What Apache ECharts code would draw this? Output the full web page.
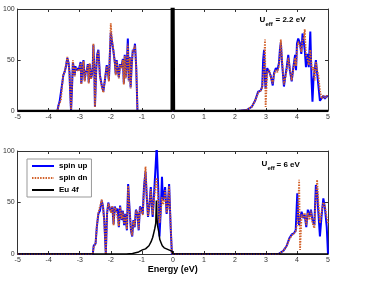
<!DOCTYPE html>
<html>
<head>
<meta charset="utf-8">
<script src="https://cdn.jsdelivr.net/npm/echarts@6/dist/echarts.min.js"></script>
<style>
html,body{margin:0;padding:0;background:#fff;}
#chart{width:366px;height:287px;}
</style>
</head>
<body>
<div id="chart"></div>
<script>
// ---- Panel 1 (U_eff = 2.2 eV) ----
var energyTop = [-5,-3.72,-3.69,-3.65,-3.61,-3.56,-3.53,-3.49,-3.45,-3.40,-3.36,-3.33,-3.31,-3.28,-3.25,-3.22,-3.19,-3.16,-3.14,-3.11,-3.07,-3.03,-2.99,-2.97,-2.95,-2.92,-2.88,-2.84,-2.81,-2.77,-2.74,-2.71,-2.68,-2.64,-2.61,-2.58,-2.56,-2.53,-2.51,-2.47,-2.44,-2.40,-2.35,-2.29,-2.24,-2.19,-2.13,-2.10,-2.06,-2.03,-2.00,-1.97,-1.92,-1.87,-1.84,-1.81,-1.77,-1.74,-1.70,-1.66,-1.61,-1.58,-1.55,-1.52,-1.48,-1.45,-1.42,-1.39,-1.36,-1.33,-1.29,-1.25,-1.22,-1.18,-1.16,-1.14,
  2.10,2.38,2.54,2.65,2.75,2.83,2.88,2.91,2.94,2.97,2.99,3.04,3.11,3.15,3.22,3.26,3.32,3.37,3.42,3.45,3.48,3.52,3.58,3.62,3.67,3.72,3.77,3.83,3.88,3.94,3.97,4.00,4.04,4.10,4.14,4.18,4.22,4.25,4.29,4.33,4.38,4.43,4.47,4.50,4.53,4.57,4.61,4.65,4.69,4.74,4.80,4.85,4.90,4.96,5.00];
var upTop = [0,0,5,9,10,28,35,38,43,52,47,38,20,0,22,48,40,35,44,40,42,40,46,48,27,28,50,30,38,40,46,28,46,32,35,44,65,40,4,40,55,60,35,25,19,30,45,40,30,55,77,70,60,48,36,50,40,33,46,43,51,27,55,33,48,71,30,53,23,43,60,58,66,43,22,0,
  0,1,4,10,19,20,24,50,60,30,22,42,38,35,25,37,42,40,47,60,67,47,24,33,43,55,40,29,42,55,40,66,71,66,56,76,68,60,43,56,43,78,30,9,30,40,50,37,25,10,9,15,12,15,14];
var dnTop = [0,0,4,8,10,27,36,38,44,53,46,37,18,0,24,50,41,34,43,41,42,39,45,47,26,27,49,29,37,41,45,27,47,31,34,43,66,41,4,41,54,59,34,24,18,31,44,41,29,56,86,72,61,47,35,49,41,32,45,42,50,26,54,32,47,66,29,52,22,42,59,60,64,42,23,0,
  0,1,4,10,18,20,23,35,45,70,4,38,40,33,27,36,40,38,44,55,70,50,26,32,40,52,42,30,40,52,44,60,68,64,58,70,72,80,55,52,45,60,45,40,43,30,48,40,35,20,12,15,13,15,13];
var energyF1 = [-5,-0.035,-0.025,0.0,0.025,0.035,5];
var eu4fTop  = [0,0,400,400,400,0,0];

// ---- Panel 2 (U_eff = 6 eV) ----
var energyBot = [-5,-2.58,-2.55,-2.49,-2.45,-2.40,-2.35,-2.29,-2.25,-2.21,-2.16,-2.12,-2.08,-2.03,-1.99,-1.95,-1.91,-1.87,-1.82,-1.78,-1.74,-1.70,-1.65,-1.61,-1.57,-1.53,-1.48,-1.44,-1.40,-1.35,-1.31,-1.27,-1.23,-1.19,-1.14,-1.10,-1.06,-1.01,-0.97,-0.93,-0.88,-0.84,-0.80,-0.76,-0.71,-0.68,-0.65,-0.61,-0.58,-0.55,-0.52,-0.49,-0.46,-0.43,-0.39,-0.35,-0.32,-0.29,-0.25,-0.20,-0.16,-0.12,-0.07,-0.03,
  3.40,3.56,3.67,3.75,3.83,3.90,3.96,4.01,4.04,4.07,4.10,4.15,4.20,4.25,4.30,4.35,4.40,4.45,4.50,4.56,4.61,4.65,4.69,4.74,4.79,4.85,4.90,4.96,5.00];
var upBot = [0,0,8,10,26,39,42,52,46,33,0,39,50,44,41,46,29,46,41,44,26,47,33,42,28,39,23,68,46,23,17,33,26,43,39,23,46,44,39,65,80,55,36,46,65,49,36,55,72,88,105,81,55,17,42,75,52,55,65,39,49,68,26,0,
  0,3,8,15,19,20,23,59,35,28,35,41,35,38,26,43,36,43,33,28,67,60,40,17,36,54,45,26,0];
var dnBot = [0,0,7,10,27,40,41,53,45,32,0,40,49,45,40,47,28,45,42,43,27,46,34,41,29,38,24,66,45,24,18,32,27,42,40,24,45,45,38,62,85,56,37,45,63,50,38,52,60,70,74,60,45,30,40,55,48,50,62,40,45,66,28,0,
  0,3,8,14,18,20,22,30,45,72,4,38,36,40,28,40,33,42,30,25,55,72,50,30,40,50,47,35,30];
var energyF2 = [-5,-1.5,-1.3,-1.1,-0.98,-0.88,-0.77,-0.70,-0.65,-0.61,-0.58,-0.55,-0.53,-0.51,-0.49,-0.45,-0.42,-0.38,-0.34,-0.28,-0.22,-0.13,-0.07,-0.02,0.0,5];
var eu4fBot  = [0,0,0.5,2,4,5,8,12,16,21,25,30,52,35,27,21,14,11,8,6,5,4,3,2.5,0,0];

var seriesNames = ['spin up','spin dn','Eu 4f'];
var panelLabels = ['2.2 eV','6 eV'];

function pairs(xs, ys){ return xs.map(function(x,i){ return [x, ys[i]]; }); }

var FONT = '"Liberation Sans", Arial, sans-serif';
var axisCol = '#333';

function xAxes(gi, showName){
  return [
    {gridIndex:gi, type:'value', position:'bottom', min:-5, max:5, interval:1,
     axisLine:{onZero:false, lineStyle:{color:axisCol,width:1}}, axisTick:{inside:true,length:3,lineStyle:{color:axisCol}},
     axisLabel:{fontSize:7, color:'#333', margin:3, fontFamily:FONT}, splitLine:{show:false},
     name: showName ? 'Energy (eV)' : '', nameLocation:'middle', nameGap:11,
     nameTextStyle:{fontSize:9, fontWeight:'bold', color:'#000', fontFamily:FONT}},
    {gridIndex:gi, type:'value', position:'top', min:-5, max:5, interval:1,
     axisLine:{onZero:false, lineStyle:{color:axisCol,width:1}}, axisTick:{inside:true,length:3,lineStyle:{color:axisCol}},
     axisLabel:{show:false}, splitLine:{show:false}}
  ];
}
function yAxes(gi){
  return [
    {gridIndex:gi, type:'value', position:'left', min:0, max:100, interval:50,
     axisLine:{show:true, onZero:false, lineStyle:{color:axisCol,width:1}}, axisTick:{show:true, inside:true,length:3,lineStyle:{color:axisCol}},
     axisLabel:{fontSize:7, color:'#333', margin:3, fontFamily:FONT}, splitLine:{show:false}},
    {gridIndex:gi, type:'value', position:'right', min:0, max:100, interval:50,
     axisLine:{show:true, onZero:false, lineStyle:{color:axisCol,width:1}}, axisTick:{show:true, inside:true,length:3,lineStyle:{color:axisCol}},
     axisLabel:{show:false}, splitLine:{show:false}}
  ];
}

function lineSeries(name, xi, yi, data, color, width, type, z){
  return {name:name, type:'line', xAxisIndex:xi, yAxisIndex:yi, data:data,
    showSymbol:false, symbol:'none', animation:false, clip:true, z:z,
    itemStyle:{color:color},
    lineStyle:{color:color, width:width, type:type}};
}

var chart = echarts.init(document.getElementById('chart'), null, {renderer:'canvas'});
var option = {
  animation:false,
  backgroundColor:'#fff',
  grid:[
    {left:16, width:312, top:9, height:102},
    {left:16, width:312, top:151, height:103}
  ],
  xAxis: xAxes(0,false).concat(xAxes(1,true)),
  yAxis: yAxes(0).concat(yAxes(1)),
  legend:{
    data:seriesNames, orient:'vertical', left:27, top:159,
    itemWidth:22, itemHeight:8, itemGap:4, padding:[3,4,3,4],
    borderColor:'#999', borderWidth:1, backgroundColor:'#fff',
    itemStyle:{opacity:0},
    textStyle:{fontSize:8, fontWeight:'bold', color:'#000', fontFamily:FONT}
  },
  series:[
    lineSeries(seriesNames[0], 0, 0, pairs(energyTop, upTop), '#0000ff', 2, 'solid', 2),
    lineSeries(seriesNames[1], 0, 0, pairs(energyTop, dnTop), '#d2612a', 1.8, [1.5,1.2], 3),
    lineSeries(seriesNames[2], 0, 0, pairs(energyF1, eu4fTop), '#000000', 2.5, 'solid', 4),
    lineSeries(seriesNames[0], 2, 2, pairs(energyBot, upBot), '#0000ff', 2, 'solid', 2),
    lineSeries(seriesNames[1], 2, 2, pairs(energyBot, dnBot), '#d2612a', 1.8, [1.5,1.2], 3),
    lineSeries(seriesNames[2], 2, 2, pairs(energyF2, eu4fBot), '#000000', 1.5, 'solid', 4)
  ],
  graphic:[
    {type:'text', x:259.5, y:20, style:{text:'U', font:'bold 8px '+FONT, fill:'#000', verticalAlign:'middle'}},
    {type:'text', x:265.5, y:24.5, style:{text:'eff', font:'bold 6px '+FONT, fill:'#000', verticalAlign:'middle'}},
    {type:'text', x:275.5, y:20, style:{text:'= ' + panelLabels[0], font:'bold 8px '+FONT, fill:'#000', verticalAlign:'middle'}},
    {type:'text', x:261.5, y:163.5, style:{text:'U', font:'bold 8px '+FONT, fill:'#000', verticalAlign:'middle'}},
    {type:'text', x:267.5, y:168, style:{text:'eff', font:'bold 6px '+FONT, fill:'#000', verticalAlign:'middle'}},
    {type:'text', x:276.5, y:164.5, style:{text:'= ' + panelLabels[1], font:'bold 8px '+FONT, fill:'#000', verticalAlign:'middle'}}
  ]
};
chart.setOption(option);
</script>
</body>
</html>
